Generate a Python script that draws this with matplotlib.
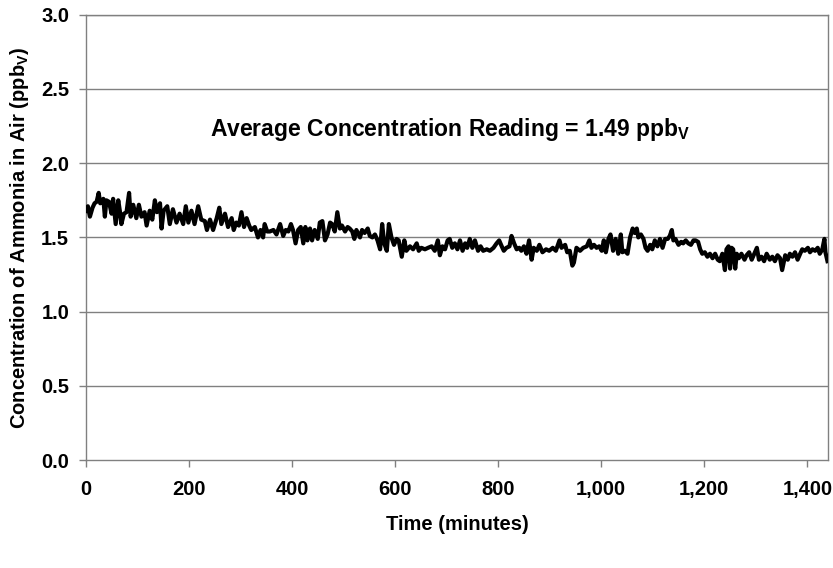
import numpy as np
import matplotlib
matplotlib.use("Agg")
import matplotlib.pyplot as plt
from matplotlib.ticker import FuncFormatter

plt.rcParams['font.family'] = ['Liberation Sans', 'DejaVu Sans']
plt.rcParams['font.weight'] = 'bold'
plt.rcParams['mathtext.fontset'] = 'custom'
plt.rcParams['mathtext.rm'] = 'Liberation Sans:bold'
plt.rcParams['mathtext.it'] = 'Liberation Sans:bold'
plt.rcParams['mathtext.bf'] = 'Liberation Sans:bold'

# time in minutes (four pieces, left to right)
t1 = [0, 4, 8, 13, 17, 21, 25, 28, 34, 37, 40, 45, 50, 53, 58, 63, 66, 69, 74, 79,
      84, 87, 92, 98, 103, 108, 114, 118, 124, 129, 134, 138, 144, 147, 151, 158, 163, 169, 176, 182,
      189, 194, 199, 205, 211, 218, 224, 231, 235, 241, 247, 254, 259, 263, 270, 276, 283, 287, 292, 297,
      302, 307, 312, 317, 321, 328, 334, 339, 344, 347, 352]
c1 = [1.68, 1.71, 1.64, 1.70, 1.73, 1.74, 1.80, 1.73, 1.76, 1.64, 1.75, 1.74, 1.66, 1.76, 1.59, 1.75, 1.68, 1.59, 1.66, 1.67,
      1.80, 1.64, 1.72, 1.63, 1.72, 1.64, 1.67, 1.58, 1.68, 1.62, 1.75, 1.67, 1.73, 1.56, 1.68, 1.71, 1.59, 1.69, 1.60, 1.66,
      1.59, 1.71, 1.60, 1.68, 1.59, 1.71, 1.62, 1.61, 1.55, 1.62, 1.55, 1.63, 1.70, 1.59, 1.66, 1.57, 1.63, 1.55, 1.60, 1.58,
      1.67, 1.57, 1.63, 1.58, 1.55, 1.57, 1.50, 1.55, 1.50, 1.59, 1.54]

t2 = [357, 364, 370, 377, 383, 388, 393, 398, 402, 407, 412, 417, 422, 426, 430, 435, 439, 444, 450, 454,
      459, 464, 469, 474, 478, 483, 488, 493, 497, 503, 508, 512, 517, 521, 525, 532, 536, 541, 547, 551,
      556, 561, 566, 571, 575, 579, 584, 588, 593, 598, 603, 607, 613, 618, 622, 629, 635, 642, 646, 651,
      658, 664, 671, 677, 683, 687, 692, 697, 702, 706, 711]
c2 = [1.54, 1.55, 1.52, 1.59, 1.51, 1.55, 1.54, 1.59, 1.55, 1.46, 1.55, 1.57, 1.46, 1.57, 1.48, 1.56, 1.48, 1.55, 1.49, 1.60,
      1.61, 1.48, 1.52, 1.60, 1.59, 1.54, 1.67, 1.56, 1.58, 1.54, 1.57, 1.56, 1.54, 1.49, 1.55, 1.50, 1.55, 1.53, 1.56, 1.51,
      1.50, 1.52, 1.48, 1.42, 1.59, 1.46, 1.41, 1.59, 1.50, 1.45, 1.49, 1.48, 1.37, 1.48, 1.41, 1.44, 1.42, 1.46, 1.41, 1.43,
      1.42, 1.43, 1.44, 1.41, 1.48, 1.38, 1.44, 1.42, 1.48, 1.49, 1.43]

t3 = [716, 721, 726, 731, 736, 740, 745, 750, 755, 761, 766, 771, 778, 784, 791, 797, 802, 807, 811, 816,
      822, 826, 831, 836, 841, 845, 850, 855, 860, 865, 869, 875, 880, 886, 893, 899, 906, 912, 919, 923,
      930, 934, 939, 944, 947, 952, 959, 965, 972, 977, 981, 986, 991, 996, 1001, 1005, 1009, 1014, 1018, 1023,
      1028, 1033, 1038, 1041, 1046, 1051, 1056, 1061]
c3 = [1.46, 1.42, 1.48, 1.41, 1.46, 1.43, 1.49, 1.43, 1.48, 1.41, 1.44, 1.41, 1.42, 1.41, 1.43, 1.46, 1.48, 1.44, 1.41, 1.43,
      1.44, 1.51, 1.46, 1.42, 1.43, 1.41, 1.44, 1.39, 1.48, 1.35, 1.43, 1.41, 1.45, 1.40, 1.42, 1.41, 1.43, 1.41, 1.48, 1.43,
      1.45, 1.40, 1.41, 1.31, 1.33, 1.43, 1.41, 1.43, 1.44, 1.48, 1.43, 1.45, 1.43, 1.44, 1.41, 1.48, 1.40, 1.49, 1.52, 1.41,
      1.49, 1.39, 1.52, 1.40, 1.41, 1.39, 1.50, 1.56]

t4 = [1065, 1069, 1072, 1077, 1082, 1086, 1090, 1095, 1099, 1104, 1109, 1114, 1119, 1124, 1129, 1133, 1137, 1140, 1144, 1150,
      1155, 1159, 1164, 1169, 1174, 1179, 1183, 1188, 1192, 1196, 1201, 1206, 1211, 1216, 1221, 1226, 1230, 1235, 1240, 1243,
      1247, 1250, 1253, 1256, 1260, 1263, 1267, 1272, 1278, 1282, 1287, 1292, 1297, 1302, 1306, 1311, 1316, 1321, 1327, 1332,
      1337, 1342, 1347, 1351, 1357, 1362, 1366, 1371, 1376, 1381, 1386, 1390, 1395, 1401, 1405, 1410, 1415, 1420, 1424, 1429,
      1433, 1435, 1439]
c4 = [1.53, 1.56, 1.50, 1.52, 1.49, 1.43, 1.41, 1.45, 1.42, 1.48, 1.44, 1.49, 1.43, 1.49, 1.49, 1.51, 1.55, 1.48, 1.49, 1.45,
      1.47, 1.46, 1.48, 1.46, 1.45, 1.48, 1.48, 1.47, 1.42, 1.39, 1.40, 1.37, 1.39, 1.36, 1.39, 1.35, 1.34, 1.39, 1.28, 1.42,
      1.44, 1.29, 1.43, 1.42, 1.29, 1.39, 1.36, 1.39, 1.35, 1.38, 1.40, 1.35, 1.39, 1.43, 1.35, 1.37, 1.34, 1.39, 1.35, 1.37,
      1.34, 1.38, 1.36, 1.28, 1.38, 1.35, 1.39, 1.37, 1.40, 1.35, 1.39, 1.42, 1.41, 1.43, 1.40, 1.42, 1.41, 1.43, 1.39, 1.42,
      1.49, 1.40, 1.34]

minutes = np.array(t1 + t2 + t3 + t4)
conc = np.array(c1 + c2 + c3 + c4)

x_ticks = [0, 200, 400, 600, 800, 1000, 1200, 1400]
y_ticks = [0.0, 0.5, 1.0, 1.5, 2.0, 2.5, 3.0]
avg_text = r'Average Concentration Reading = 1.49 ppb$_\mathrm{V}$'

fig = plt.figure(figsize=(8.33, 5.68), dpi=100)
ax = fig.add_axes([0.103, 0.19, 0.891, 0.784])

for yv in y_ticks[1:]:
    ax.axhline(yv, color='#808080', lw=1.0, zorder=1)

ax.plot(minutes, conc, color='black', lw=3.0, zorder=3)

ax.set_xlim(0, 1440)
ax.set_ylim(0, 3.0)
ax.set_xticks(x_ticks)
ax.set_yticks(y_ticks)
ax.xaxis.set_major_formatter(FuncFormatter(lambda v, p: f'{int(v):,}'))
ax.yaxis.set_major_formatter(FuncFormatter(lambda v, p: f'{v:.1f}'))
ax.tick_params(axis='both', direction='out', length=5, width=1, color='#808080',
               labelsize=14.5, pad=7)
ax.tick_params(axis='x', pad=9)

for s in ax.spines.values():
    s.set_color('#808080')
    s.set_linewidth(1.0)

ax.set_xlabel('Time (minutes)', fontsize=14.5, fontweight='bold', labelpad=12)
ax.set_ylabel(r'Concentration of Ammonia in Air (ppb$_\mathrm{V}$)', fontsize=14.5,
              fontweight='bold', labelpad=7)

ax.text(706, 2.23, avg_text, fontsize=16.5, fontweight='bold', ha='center', va='center')

fig.savefig('out.png', dpi=100)
